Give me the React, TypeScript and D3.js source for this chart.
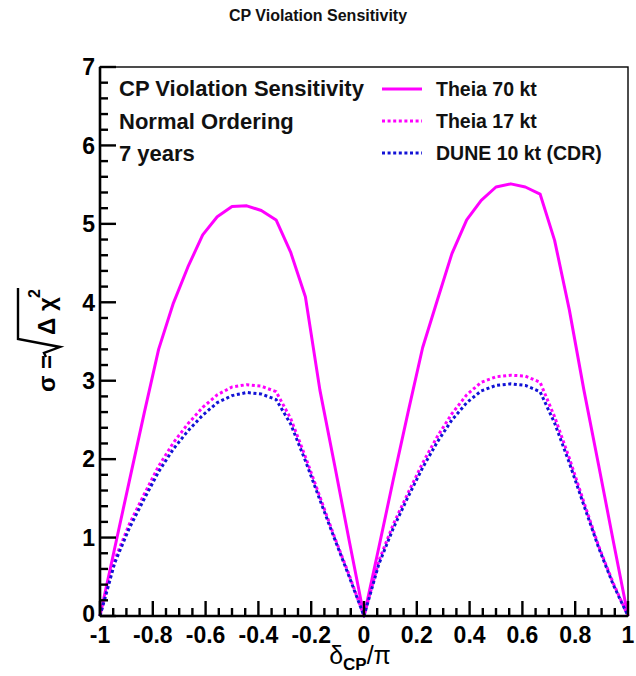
import React from "react";
import * as d3 from "d3";

const deltaCP = [-1, -0.944, -0.889, -0.833, -0.778, -0.722, -0.667, -0.611, -0.556, -0.5, -0.444, -0.389, -0.333, -0.278, -0.222, -0.167, -0.111, -0.056, 0, 0.056, 0.111, 0.167, 0.222, 0.278, 0.333, 0.389, 0.444, 0.5, 0.556, 0.611, 0.667, 0.722, 0.778, 0.833, 0.889, 0.944, 1];

const theia70 = [0, 0.87, 1.72, 2.58, 3.4, 3.99, 4.45, 4.86, 5.09, 5.22, 5.23, 5.17, 5.05, 4.64, 4.07, 2.88, 1.92, 0.96, 0, 0.87, 1.74, 2.6, 3.42, 4.03, 4.62, 5.05, 5.3, 5.47, 5.51, 5.47, 5.38, 4.79, 3.9, 2.88, 1.92, 0.96, 0];
const theia17 = [0, 0.72, 1.17, 1.55, 1.91, 2.21, 2.45, 2.66, 2.82, 2.92, 2.95, 2.93, 2.86, 2.52, 2.03, 1.52, 1.0, 0.52, 0, 0.7, 1.17, 1.57, 1.95, 2.29, 2.58, 2.82, 2.98, 3.05, 3.07, 3.06, 2.98, 2.54, 2.01, 1.45, 0.89, 0.42, 0];
const dune10 = [0, 0.68, 1.12, 1.49, 1.84, 2.13, 2.36, 2.56, 2.72, 2.81, 2.85, 2.83, 2.76, 2.45, 1.98, 1.48, 0.98, 0.5, 0, 0.66, 1.12, 1.52, 1.89, 2.22, 2.5, 2.72, 2.87, 2.94, 2.96, 2.94, 2.86, 2.46, 1.95, 1.41, 0.87, 0.4, 0];

const xTickLabels = ["-1", "-0.8", "-0.6", "-0.4", "-0.2", "0", "0.2", "0.4", "0.6", "0.8", "1"];
const yTickLabels = ["0", "1", "2", "3", "4", "5", "6", "7"];
const infoLines = ["CP Violation Sensitivity", "Normal Ordering", "7 years"];
const legendLabels = ["Theia 70 kt", "Theia 17 kt", "DUNE 10 kt (CDR)"];

const MAGENTA = "#ff00ff";
const BLUE = "#1212d6";
const FONT = "'Liberation Sans', Arial, Helvetica, sans-serif";

export default function App() {
  const W = 636, H = 676;
  const x = d3.scaleLinear().domain([-1, 1]).range([100, 628]);
  const y = d3.scaleLinear().domain([0, 7]).range([616, 67]);

  const line = d3
    .line<number>()
    .x((_, i) => x(deltaCP[i]))
    .y((v) => y(v));

  const series = [
    { name: legendLabels[0], data: theia70, color: MAGENTA, dash: undefined },
    { name: legendLabels[1], data: theia17, color: MAGENTA, dash: "3,2.6" },
    { name: legendLabels[2], data: dune10, color: BLUE, dash: "3,2.6" },
  ];

  const xMajor = xTickLabels.map((t) => +t);
  const xMinor = d3.range(-1, 1.0001, 0.05).filter((v) => Math.abs(Math.round(v * 5) - v * 5) > 1e-6);
  const yMajor = yTickLabels.map((t) => +t);
  const yMinor = d3.range(0, 7.0001, 0.2).filter((v) => Math.abs(Math.round(v) - v) > 1e-6);

  const [x0, x1] = x.range();
  const [y0, y1] = y.range();

  return (
    <svg width={W} height={H} style={{ position: "absolute", left: 0, top: 0, background: "#fff" }} fontFamily={FONT}>
      <rect x={0} y={0} width={W} height={H} fill="#fff" />
      <text x={318} y={21} textAnchor="middle" fontSize={16} fontWeight="bold" fill="#111">
        CP Violation Sensitivity
      </text>

      {/* frame */}
      <rect x={x0} y={y1} width={x1 - x0} height={y0 - y1} fill="none" stroke="#000" strokeWidth={1.4} />

      {/* curves */}
      {series.map((s) => (
        <path key={s.name} d={line(s.data) || ""} fill="none" stroke={s.color} strokeWidth={3} strokeDasharray={s.dash} strokeLinejoin="round" />
      ))}

      {/* axes */}
      <line x1={x0} x2={x0} y1={y1} y2={y0} stroke="#000" strokeWidth={2.6} />
      <line x1={x0} x2={x1} y1={y0} y2={y0} stroke="#000" strokeWidth={2.6} />
      {yMajor.map((v) => (
        <line key={"ym" + v} x1={x0} x2={x0 + 16} y1={y(v)} y2={y(v)} stroke="#000" strokeWidth={2.4} />
      ))}
      {yMinor.map((v) => (
        <line key={"yn" + v} x1={x0} x2={x0 + 8} y1={y(v)} y2={y(v)} stroke="#000" strokeWidth={2.4} />
      ))}
      {xMajor.map((v) => (
        <line key={"xm" + v} x1={x(v)} x2={x(v)} y1={y0} y2={y0 - 15} stroke="#000" strokeWidth={2.4} />
      ))}
      {xMinor.map((v) => (
        <line key={"xn" + v} x1={x(v)} x2={x(v)} y1={y0} y2={y0 - 8} stroke="#000" strokeWidth={2.4} />
      ))}
      {yTickLabels.map((t) => (
        <text key={"yl" + t} x={x0 - 5} y={y(+t) - (t === "0" ? 2 : 0)} dy="0.36em" textAnchor="end" fontSize={23} fontWeight="bold" fill="#000">
          {t}
        </text>
      ))}
      {xTickLabels.map((t) => (
        <text key={"xl" + t} x={x(+t)} y={643} textAnchor="middle" fontSize={23} fontWeight="bold" fill="#000">
          {t}
        </text>
      ))}

      {/* x title */}
      <text x={360} y={664} textAnchor="middle" fontSize={25} fill="#000">
        <tspan>δ</tspan>
        <tspan fontSize={17} fontWeight="bold" dy={6}>CP</tspan>
        <tspan dy={-6}>/π</tspan>
      </text>

      {/* y title */}
      <g transform="translate(55,392) rotate(-90)">
        <text x={0} y={0} fontSize={24} fontWeight="bold" fill="#000">σ =</text>
        <path d="M35,-9 L39,-11 L45,5 L53,-37 L104,-37" fill="none" stroke="#000" strokeWidth={2.4} />
        <text x={57} y={0} fontSize={24} fontWeight="bold" fill="#000">Δ χ</text>
        <text x={94} y={-15} fontSize={16} fontWeight="bold" fill="#000">2</text>
      </g>

      {/* info text */}
      {infoLines.map((t, i) => (
        <text key={t} x={119} y={96 + i * 32.5} fontSize={22} fontWeight="bold" fill="#111">
          {t}
        </text>
      ))}

      {/* legend */}
      {series.map((s, i) => (
        <g key={"lg" + s.name}>
          <line x1={382} x2={422} y1={89 + i * 32} y2={89 + i * 32} stroke={s.color} strokeWidth={3} strokeDasharray={s.dash} />
          <text x={436} y={96 + i * 32} fontSize={19.5} fontWeight="bold" fill="#111">
            {s.name}
          </text>
        </g>
      ))}
    </svg>
  );
}
